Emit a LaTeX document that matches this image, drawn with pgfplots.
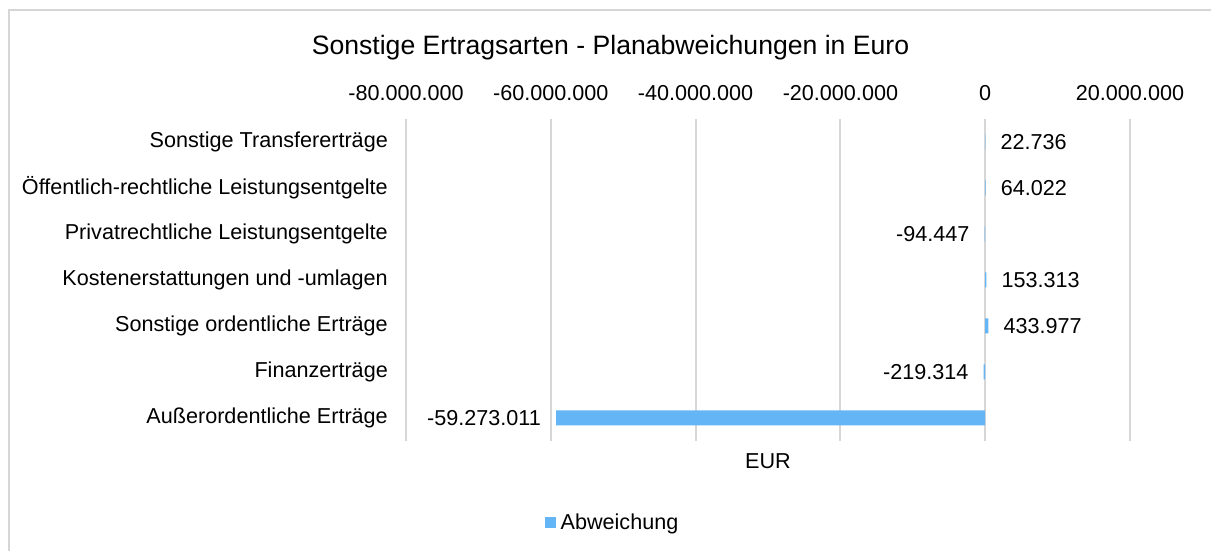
\documentclass[border=0pt]{standalone}
\usepackage{pgfplots}
\pgfplotsset{compat=1.18}
\usepackage{fontspec}
\setmainfont{Liberation Sans}
\definecolor{barblue}{RGB}{100,181,246}
\definecolor{gridgray}{RGB}{214,214,214}
\newcommand\lbl{\fontsize{21.6}{25}\selectfont}
\begin{document}
\begin{tikzpicture}[x=1pt,y=1pt]
\path[use as bounding box] (0,0) rectangle (1211,551);
\draw[gridgray, line width=1.5pt] (9,-30) rectangle (1240,541);
\node[font=\fontsize{26.6}{32}\selectfont, anchor=base] at (610.5,496) {Sonstige Ertragsarten - Planabweichungen in Euro};
\begin{axis}[
    at={(406pt,110pt)}, anchor=south west,
    scale only axis, width=724pt, height=322pt,
    xbar, bar width=15pt, bar shift=0pt,
    xmin=-80000000, xmax=20000000,
    ymin=-0.5, ymax=6.5,
    scaled x ticks=false,
    xtick={-80000000,-60000000,-40000000,-20000000,0,20000000},
    xticklabels={-80.000.000,-60.000.000,-40.000.000,-20.000.000,0,20.000.000},
    xticklabel pos=top,
    xticklabel style={font=\lbl, anchor=base, yshift=18pt},
    ytick={0,...,6},
    yticklabels={Außerordentliche Erträge, Finanzerträge, Sonstige ordentliche Erträge, Kostenerstattungen und -umlagen, Privatrechtliche Leistungsentgelte, Öffentlich-rechtliche Leistungsentgelte, Sonstige Transfererträge},
    yticklabel style={font=\lbl, anchor=east, inner sep=0pt, xshift=-18pt},
    axis line style={draw=none},
    major tick length=0pt,
    xmajorgrids,
    major grid style={gridgray, line width=2pt},
    point meta=explicit symbolic,
    nodes near coords,
    every node near coord/.append style={font=\lbl, text=black, inner sep=0pt},
    legend style={at={(0.2873,-0.2516)}, anchor=center, draw=none, font=\lbl,
        nodes={inner xsep=5pt}},
    legend image code/.code={\fill[barblue] (0pt,-5.5pt) rectangle (11pt,5.5pt);},
]
\addplot[fill=barblue, draw=none, every node near coord/.append style={anchor=west, xshift=15pt}]
  coordinates {(22736,6) [22.736] (64022,5) [64.022] (153313,3) [153.313] (433977,2) [433.977]};
\addlegendentry{Abweichung}
\addplot[fill=barblue, draw=none, forget plot, every node near coord/.append style={anchor=east, xshift=-15pt}]
  coordinates {(-94447,4) [-94.447] (-219314,1) [-219.314] (-59273011,0) [-59.273.011]};
\end{axis}
\node[font=\lbl, anchor=base] at (768,82) {EUR};
\end{tikzpicture}
\end{document}
